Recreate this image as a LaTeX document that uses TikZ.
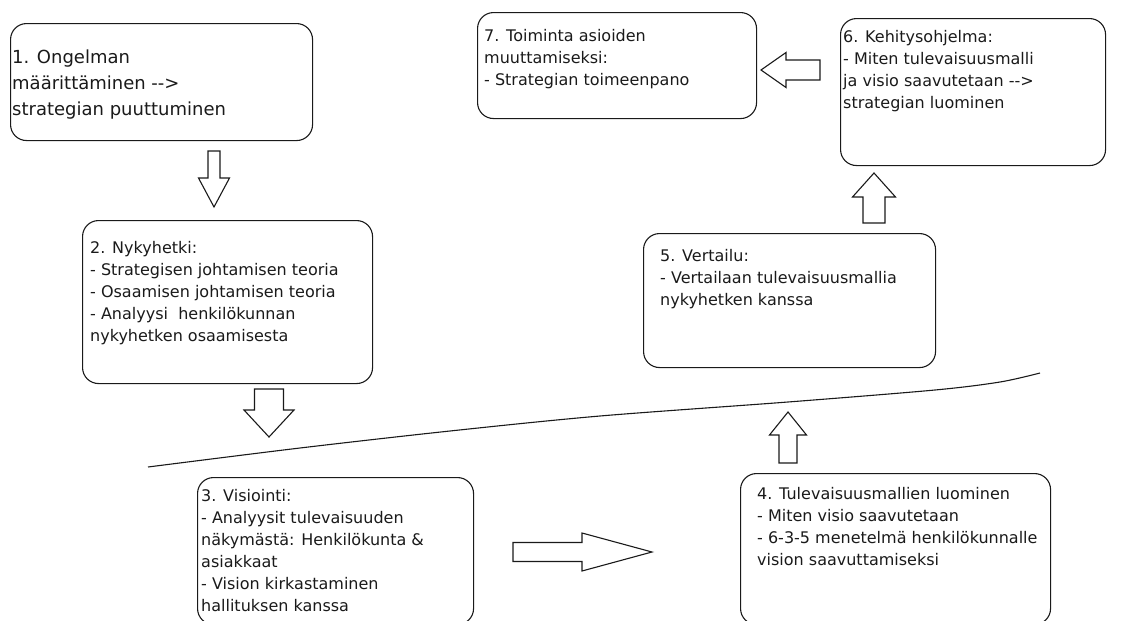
\documentclass[tikz,border=0pt]{standalone}
\usepackage{fontspec}
\setmainfont{DejaVu Sans}
\usepackage{tikz}
\usepackage{xcolor}
\usetikzlibrary{calc,positioning}
\definecolor{inkgray}{HTML}{1A1A1A}
\tikzset{
  stepBox/.style={draw=inkgray, line width=1.1pt, rounded corners=16pt, anchor=north west, inner sep=0pt},
  stepText/.style={font=\fontsize{16}{22}\selectfont, align=left, inner sep=0pt, anchor=north west, text=inkgray},
  bigText/.style={stepText, font=\fontsize{18}{26}\selectfont},
  blockArrow/.style={draw=inkgray, line width=1.1pt, line join=miter, fill=white},
  dividerLine/.style={draw=inkgray, line width=1.1pt}
}
% hollow block arrow: tail, tip, shaft half width, head half width, head length
\newcommand{\fatarrow}[5]{%
  \draw[blockArrow] let \p1=(#1), \p2=(#2),
    \n1={atan2(\y2-\y1,\x2-\x1)}, \n2={veclen(\x2-\x1,\y2-\y1)} in
    [shift={(\p1)}, rotate=\n1]
    (0pt,-#3pt) -- (\n2-#5pt,-#3pt) -- (\n2-#5pt,-#4pt) -- (\n2,0pt)
    -- (\n2-#5pt,#4pt) -- (\n2-#5pt,#3pt) -- (0pt,#3pt) -- cycle;
}
\newcommand{\toarrow}{{-}{-}>}

\begin{document}
\begin{tikzpicture}[x=1pt,y=-1pt]
  \useasboundingbox (0,0) rectangle (1130,621);
  % boxes
  \node[stepBox, minimum width=302, minimum height=117] (ongelma) at (10,23) {};
  \node[stepBox, minimum width=290, minimum height=163] (nykyhetki) at (82,220) {};
  \node[stepBox, minimum width=276, minimum height=147] (visiointi) at (197,477) {};
  \node[stepBox, minimum width=310, minimum height=151] (mallit) at (740,473) {};
  \node[stepBox, minimum width=292, minimum height=134] (vertailu) at (643,233) {};
  \node[stepBox, minimum width=265, minimum height=147] (ohjelma) at (840,18) {};
  \node[stepBox, minimum width=279, minimum height=106] (toiminta) at (477,12) {};

  % texts
  \node[bigText] (ongelmaTxt) at ([shift={(2,27)}]ongelma.north west)
    {1. Ongelman\\määrittäminen \toarrow\\strategian puuttuminen};
  \node[stepText] (nykyhetkiTxt) at ([shift={(8,21)}]nykyhetki.north west)
    {2. Nykyhetki:\\- Strategisen johtamisen teoria\\- Osaamisen johtamisen teoria\\- Analyysi\ \ henkilökunnan\\nykyhetken osaamisesta};
  \node[stepText] (visiointiTxt) at ([shift={(4,12)}]visiointi.north west)
    {3. Visiointi:\\- Analyysit tulevaisuuden\\näkymästä: Henkilökunta \&\\asiakkaat\\- Vision kirkastaminen\\hallituksen kanssa};
  \node[stepText] (mallitTxt) at ([shift={(17,14)}]mallit.north west)
    {4. Tulevaisuusmallien luominen\\- Miten visio saavutetaan\\- 6-3-5 menetelmä henkilökunnalle\\vision saavuttamiseksi};
  \node[stepText] (vertailuTxt) at ([shift={(17,16)}]vertailu.north west)
    {5. Vertailu:\\- Vertailaan tulevaisuusmallia\\nykyhetken kanssa};
  \node[stepText] (ohjelmaTxt) at ([shift={(3,12)}]ohjelma.north west)
    {6. Kehitysohjelma:\\- Miten tulevaisuusmalli\\ja visio saavutetaan \toarrow\\strategian luominen};
  \node[stepText] (toimintaTxt) at ([shift={(7,17)}]toiminta.north west)
    {7. Toiminta asioiden\\muuttamiseksi:\\- Strategian toimeenpano};

  % arrow ends
  \coordinate (a12s) at (214,151);  \coordinate (a12e) at (214,207);
  \coordinate (a23s) at (269,389);  \coordinate (a23e) at (269,437);
  \coordinate (a34s) at (513,552);  \coordinate (a34e) at (652,552);
  \coordinate (a45s) at (788,463);  \coordinate (a45e) at (788,412);
  \coordinate (a56s) at (874,223);  \coordinate (a56e) at (874,173);
  \coordinate (a67s) at (820,70);   \coordinate (a67e) at (761,70);

  \fatarrow{a12s}{a12e}{6}{15.5}{29}
  \fatarrow{a23s}{a23e}{14.5}{25}{27}
  \fatarrow{a34s}{a34e}{9.5}{19}{70}
  \fatarrow{a45s}{a45e}{9}{18.5}{23}
  \fatarrow{a56s}{a56e}{11}{21.5}{24}
  \fatarrow{a67s}{a67e}{10}{17.5}{25}

  % present / future divider
  \draw[dividerLine] plot[smooth, tension=0.5] coordinates
    {(148,467) (300,448) (450,431) (600,416) (788,402) (935,390) (1000,382) (1040,373)};
\end{tikzpicture}
\end{document}
